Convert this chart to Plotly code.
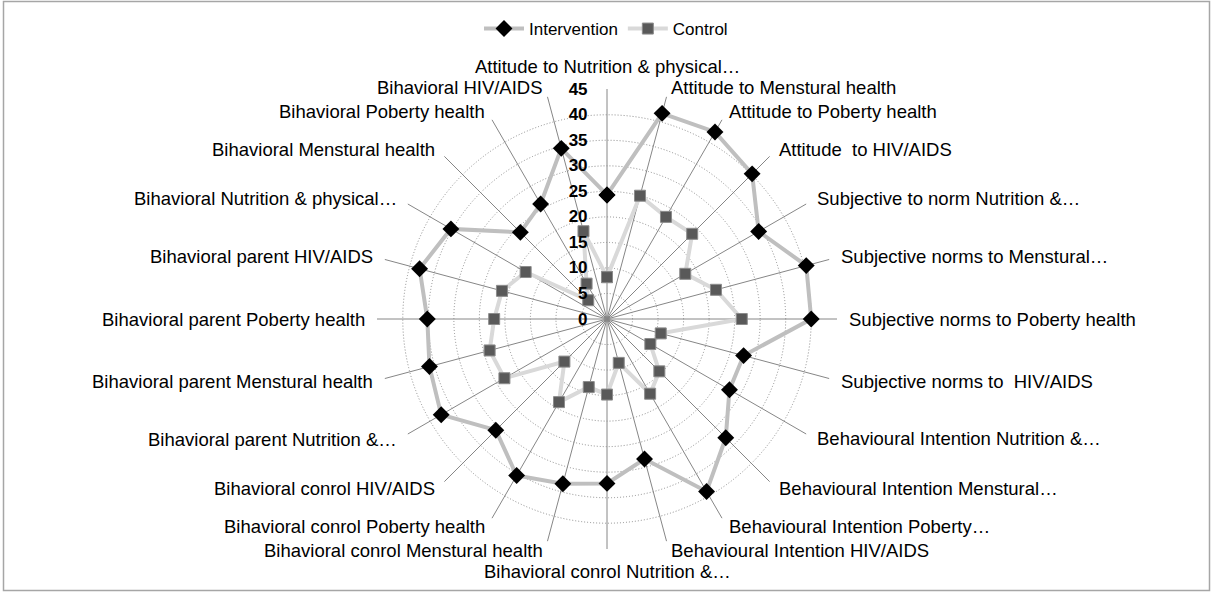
import math
import plotly.graph_objects as go

categories = [
    "Attitude to Nutrition & physical…",
    "Attitude to Menstural health",
    "Attitude to Poberty health",
    "Attitude  to HIV/AIDS",
    "Subjective to norm Nutrition &…",
    "Subjective norms to Menstural…",
    "Subjective norms to Poberty health",
    "Subjective norms to  HIV/AIDS",
    "Behavioural Intention Nutrition &…",
    "Behavioural Intention Menstural…",
    "Behavioural Intention Poberty…",
    "Behavioural Intention HIV/AIDS",
    "Bihavioral conrol Nutrition &…",
    "Bihavioral conrol Menstural health",
    "Bihavioral conrol Poberty health",
    "Bihavioral conrol HIV/AIDS",
    "Bihavioral parent Nutrition &…",
    "Bihavioral parent Menstural health",
    "Bihavioral parent Poberty health",
    "Bihavioral parent HIV/AIDS",
    "Bihavioral Nutrition & physical…",
    "Bihavioral Menstural health",
    "Bihavioral Poberty health",
    "Bihavioral HIV/AIDS",
]

intervention = [24.3, 41.7, 42.3, 40.2, 34.3, 40.4, 40.0, 27.7, 27.7, 32.9, 39.0, 28.4,
                32.2, 33.4, 35.4, 30.8, 37.5, 36.0, 35.2, 38.0, 35.3, 24.0, 26.0, 34.6]
control = [8.2, 25.0, 23.1, 23.6, 17.7, 22.1, 26.4, 10.9, 9.8, 14.5, 16.9, 8.9,
           14.8, 13.8, 18.8, 11.8, 23.2, 23.8, 22.1, 21.3, 18.4, 5.2, 8.0, 17.8]

radial_ticks = [0, 5, 10, 15, 20, 25, 30, 35, 40, 45]

FONT = "Liberation Sans"
W, H = 1212, 592
cx, cy, R = 607, 319, 230

theta_closed = categories + [categories[0]]

fig = go.Figure()
fig.add_trace(go.Scatterpolar(
    r=intervention + [intervention[0]], theta=theta_closed, name="Intervention",
    mode="lines+markers",
    line=dict(color="#bfbfbf", width=4),
    marker=dict(symbol="diamond", size=13, color="#000000", line=dict(color="#000000", width=0)),
))
fig.add_trace(go.Scatterpolar(
    r=control + [control[0]], theta=theta_closed, name="Control",
    mode="lines+markers",
    line=dict(color="#d9d9d9", width=4),
    marker=dict(symbol="square", size=11, color="#595959", line=dict(color="#8c8c8c", width=1)),
))

# category labels placed just outside the outer circle, Excel-style
annotations = []
n = len(categories)
for i, name in enumerate(categories):
    ang = 2 * math.pi * i / n
    s, c = math.sin(ang), math.cos(ang)
    if abs(s) < 1e-6:
        rr = R + 22
        xa = "center"
    else:
        rr = R + 10
        xa = "left" if s > 0 else "right"
    px = cx + rr * s
    py = cy - rr * c
    annotations.append(dict(
        text=name, x=px / W, y=1 - py / H, xref="paper", yref="paper",
        xanchor=xa, yanchor="middle", showarrow=False,
        font=dict(size=18.5, family=FONT, color="#000000"),
    ))

fig.update_layout(
    width=W, height=H,
    margin=dict(l=0, r=0, t=0, b=0),
    paper_bgcolor="white",
    plot_bgcolor="white",
    font=dict(family=FONT, color="#000000"),
    showlegend=True,
    legend=dict(orientation="h", x=0.5, xanchor="center", y=1 - 29 / H, yanchor="middle",
                font=dict(size=17, family=FONT, color="#000000"), bgcolor="rgba(0,0,0,0)",
                itemwidth=40),
    annotations=annotations,
    polar=dict(
        domain=dict(x=[(cx - R) / W, (cx + R) / W], y=[(H - cy - R) / H, (H - cy + R) / H]),
        bgcolor="white",
        radialaxis=dict(
            range=[0, 45.05], tickvals=radial_ticks, ticktext=[str(v) for v in radial_ticks],
            angle=90, tickangle=90, side="counterclockwise",
            showline=False, ticks="outside", ticklen=13, tickcolor="rgba(0,0,0,0)",
            gridcolor="#8c8c8c", griddash="1px,2px", gridwidth=1,
            tickfont=dict(size=17, family=FONT, color="#000000", weight="bold"),
        ),
        angularaxis=dict(
            rotation=90, direction="clockwise",
            showline=False, ticks="", showticklabels=False,
            gridcolor="#868686", gridwidth=1,
        ),
    ),
    shapes=[dict(type="rect", xref="paper", yref="paper",
                 x0=3.5 / W, x1=1209.5 / W, y0=1 - 590.5 / H, y1=1 - 1.5 / H,
                 line=dict(color="#a6a6a6", width=1.5), fillcolor="rgba(0,0,0,0)")],
)

fig.write_html("out.html")
